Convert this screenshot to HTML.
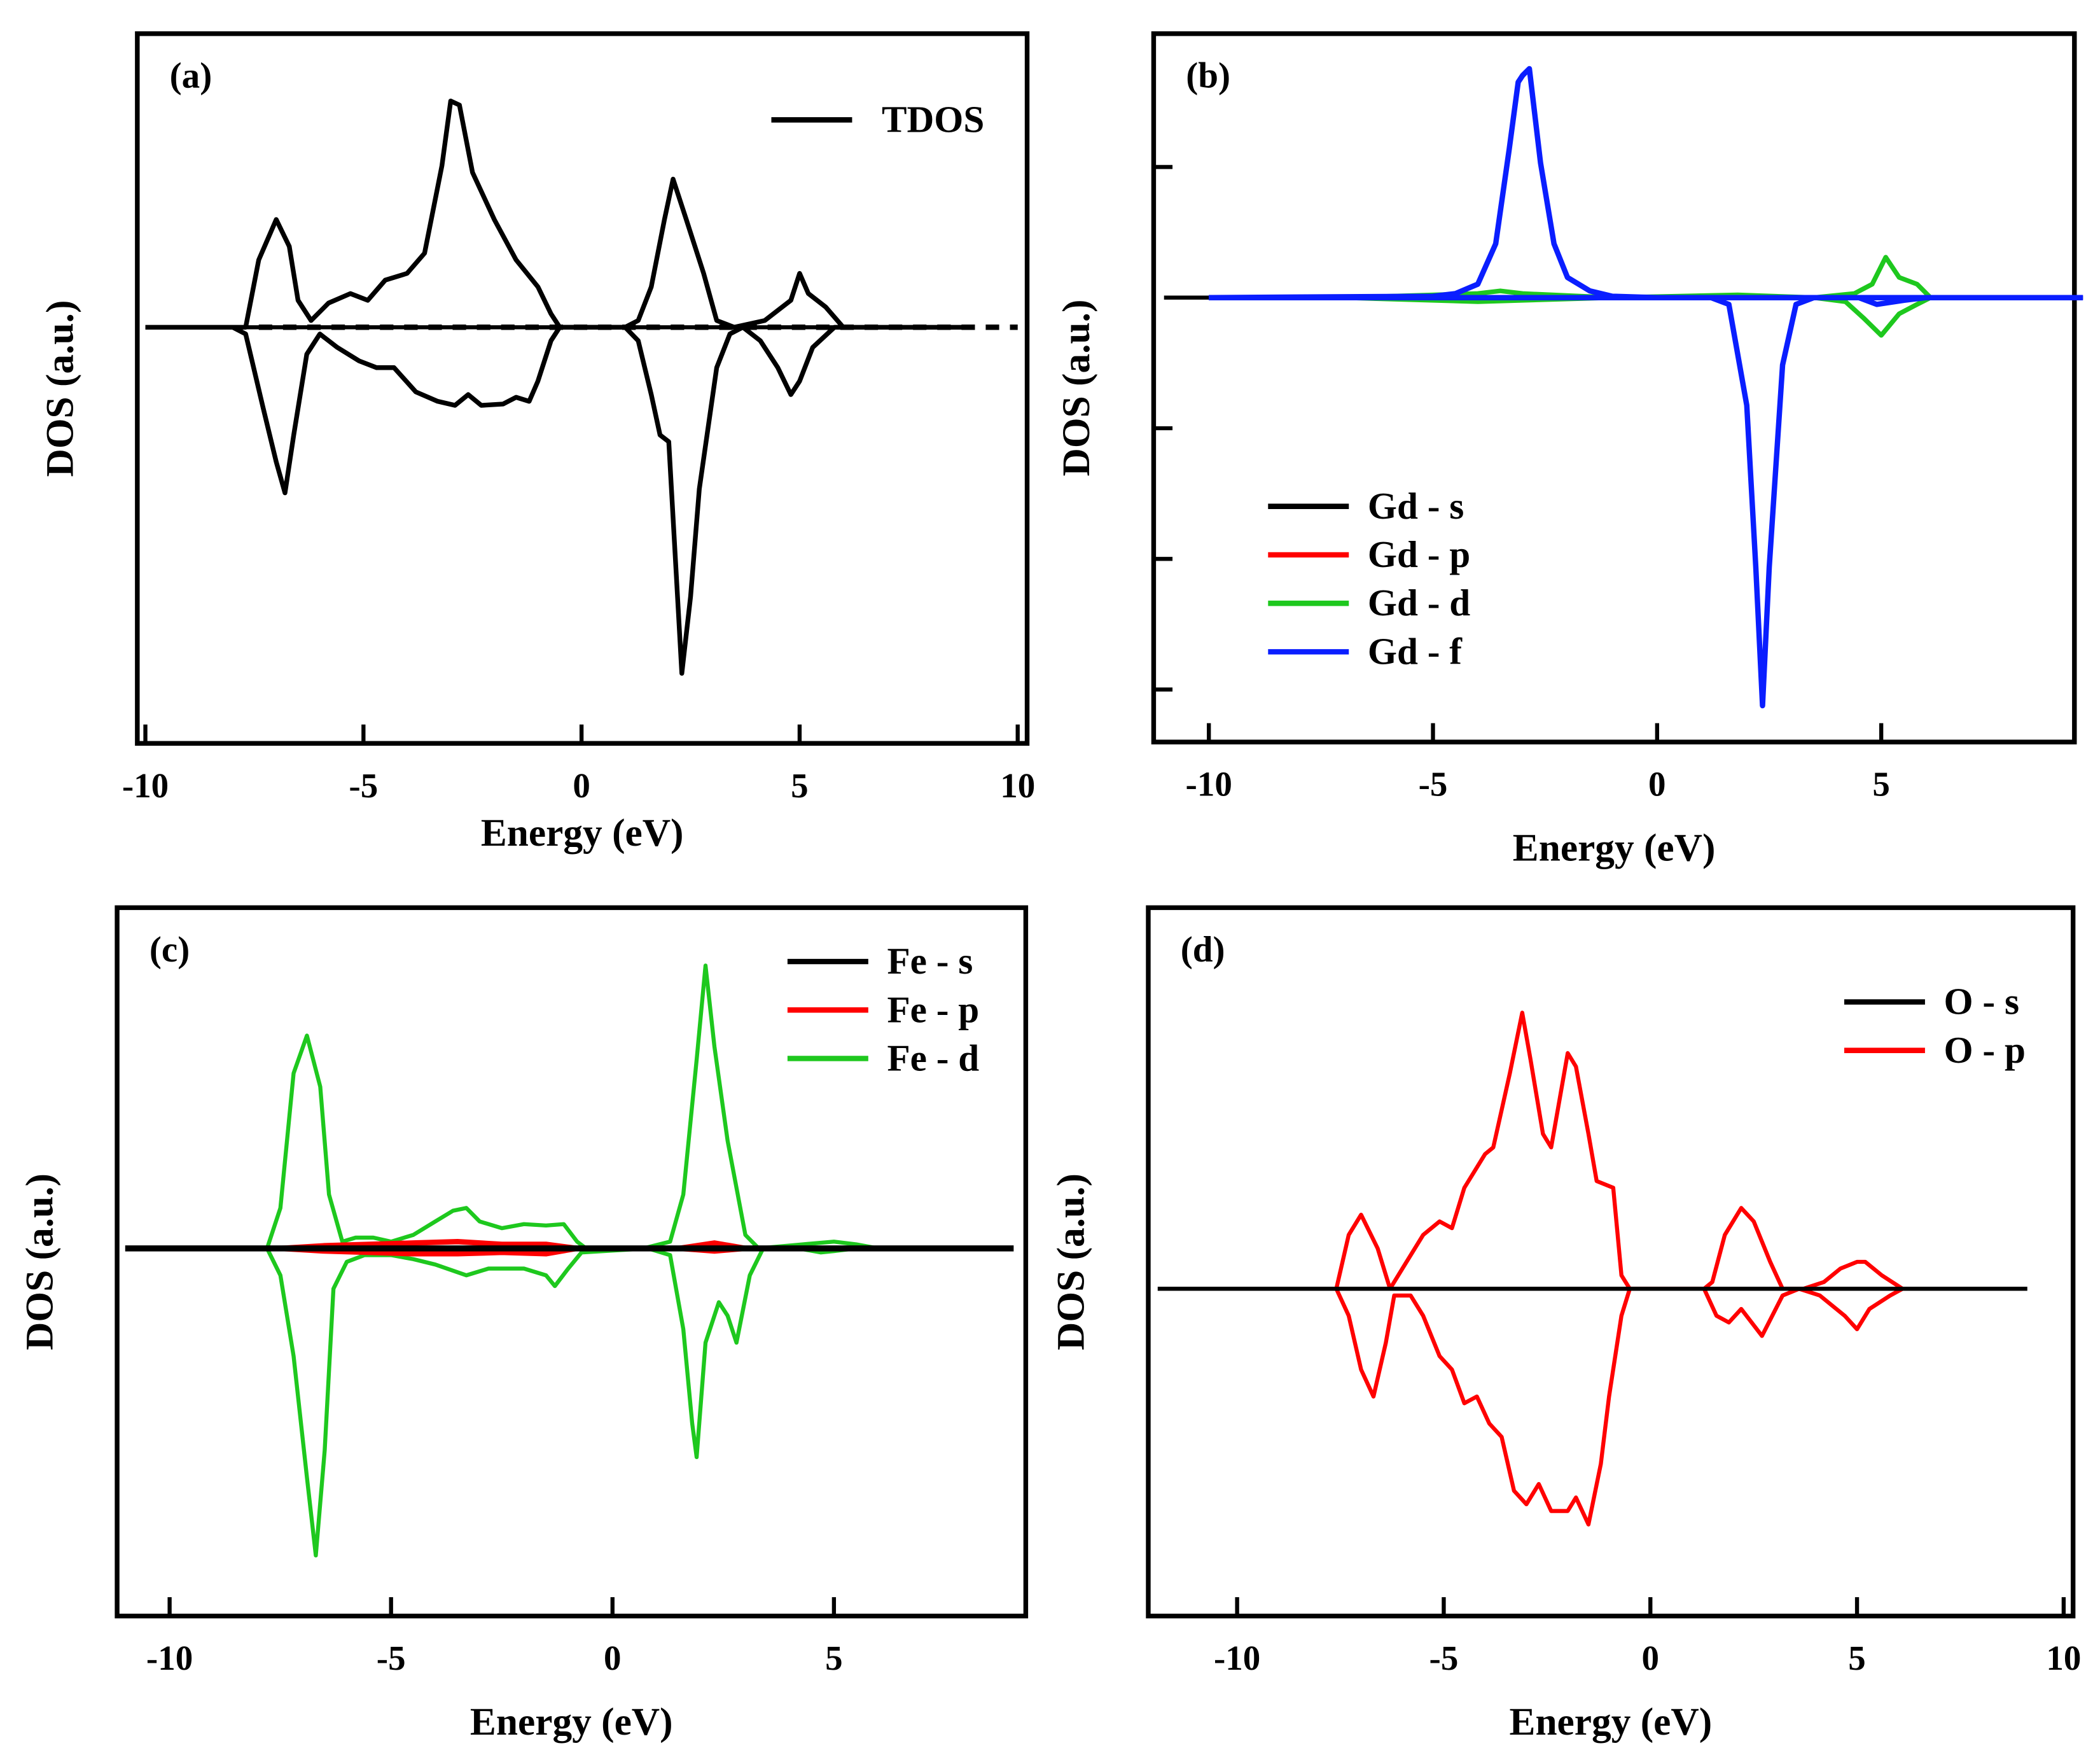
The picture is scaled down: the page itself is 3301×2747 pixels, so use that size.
<!DOCTYPE html>
<html><head><meta charset="utf-8"><style>
html,body{margin:0;padding:0;background:#fff}
svg{display:block}
text{font-family:"Liberation Serif",serif;font-weight:bold;fill:#000}
</style></head><body>
<svg id="fig" xmlns="http://www.w3.org/2000/svg" width="3301" height="2747" viewBox="0 0 1560 1298" preserveAspectRatio="none"></svg>
<script>
// ---- Panel (a) TDOS ----
const aUpE=[-10,-8,-7.7,-7.4,-7.0,-6.7,-6.5,-6.2,-5.8,-5.3,-4.9,-4.5,-4.0,-3.6,-3.2,-3.0,-2.8,-2.5,-2.0,-1.5,-1.0,-0.7,-0.5,1.0,1.3,1.6,1.9,2.1,2.4,2.8,3.1,3.5,4.2,4.6,4.8,5.0,5.2,5.6,6.0,9.0];
const aUpV=[0,0,0,5.0,8.0,6.0,2.0,0.5,1.8,2.5,2.0,3.5,4.0,5.5,12.0,16.8,16.5,11.5,8.0,5.0,3.0,1.0,0,0,0.5,3.0,8.0,11.0,8.0,4.0,0.5,0,0.5,1.5,2.0,4.0,2.5,1.5,0,0];
const aDnE=[-8,-7.7,-7.3,-7.0,-6.8,-6.6,-6.3,-6.0,-5.6,-5.1,-4.7,-4.3,-3.8,-3.3,-2.9,-2.6,-2.3,-1.8,-1.5,-1.2,-1.0,-0.7,-0.5,1.0,1.3,1.6,1.8,2.0,2.2,2.3,2.5,2.7,3.1,3.4,3.7,4.1,4.5,4.8,5.0,5.3,5.8,6.2];
const aDnV=[0,-0.5,-6.0,-10.0,-12.3,-8.0,-2.0,-0.5,-1.5,-2.5,-3.0,-3.0,-4.8,-5.5,-5.8,-5.0,-5.8,-5.7,-5.2,-5.5,-4.0,-1.0,0,0,-1.0,-5.0,-8.0,-8.5,-20.0,-25.7,-20.0,-12.0,-3.0,-0.5,0,-1.0,-3.0,-5.0,-4.0,-1.5,0,0];
// ---- Panel (b) Gd ----
const bFupE=[-10,-5,-4.5,-4.0,-3.6,-3.3,-3.1,-3.0,-2.85,-2.6,-2.3,-2.0,-1.5,-1.0,0,9.5];
const bFupV=[0,0.1,0.3,1.0,4.0,11.0,16.0,16.5,17.0,10.0,4.0,1.5,0.5,0.1,0,0];
const bFdnE=[-10,1.2,1.6,2.0,2.2,2.35,2.5,2.8,3.1,3.5,4.5,4.9,5.5,6.0,9.5];
const bFdnV=[0,0,-0.5,-8.0,-20.0,-30.3,-20.0,-5.0,-0.5,0,0,-0.5,-0.2,0,0];
const bDupE=[-7,-4,-3.5,-3,-1,1.8,3.5,4.4,4.8,5.1,5.4,5.8,6.1];
const bDupV=[0,0.3,0.5,0.3,0,0.2,0,0.3,1.0,3.0,1.5,1.0,0];
const bDdnE=[-7,-4,-1,3.5,4.2,4.6,5.0,5.4,5.8,6.1];
const bDdnV=[0,-0.3,0,0,-0.3,-1.5,-2.8,-1.2,-0.5,0];
// ---- Panel (c) Fe ----
const cDupE=[-10,-7.8,-7.5,-7.2,-6.9,-6.6,-6.4,-6.1,-5.8,-5.4,-5.0,-4.5,-4.0,-3.6,-3.3,-3.0,-2.5,-2.0,-1.5,-1.1,-0.8,-0.6,0.7,1.3,1.6,1.9,2.1,2.3,2.6,3.0,3.3,4.3,5.0,5.5,6.0];
const cDupV=[0,0,3.0,13.0,15.8,12.0,4.0,0.5,0.8,0.8,0.5,1.0,2.0,2.8,3.0,2.0,1.5,1.8,1.7,1.8,0.5,0,0,0.5,4.0,14.0,21.0,15.0,8.0,1.0,0,0.3,0.5,0.3,0];
const cDdnE=[-7.8,-7.5,-7.2,-6.9,-6.7,-6.5,-6.3,-6.0,-5.6,-5.0,-4.5,-4.0,-3.3,-2.8,-2.0,-1.5,-1.3,-1.0,-0.7,0.8,1.3,1.6,1.8,1.9,2.1,2.4,2.6,2.8,3.1,3.4,4.2,4.7,5.0,5.5];
const cDdnV=[0,-2.0,-8.0,-17.0,-22.8,-15.0,-3.0,-1.0,-0.5,-0.5,-0.8,-1.2,-2.0,-1.5,-1.5,-2.0,-2.8,-1.5,-0.3,0,-0.5,-6.0,-13.0,-15.5,-7.0,-4.0,-5.0,-7.0,-2.0,0,0,-0.3,-0.2,0];
const cPupE=[-7.5,-6.5,-5.5,-4.5,-3.5,-2.5,-1.5,-0.8,1.5,2.3,3.0];
const cPupV=[0,0.2,0.3,0.4,0.5,0.3,0.3,0,0,0.4,0];
const cPdnE=[-7.5,-6.5,-5.5,-4.5,-3.5,-2.5,-1.5,-0.8,1.5,2.3,3.0];
const cPdnV=[0,-0.2,-0.3,-0.4,-0.4,-0.3,-0.4,0,0,-0.2,0];
// ---- Panel (d) O ----
const dUpE=[-7.6,-7.3,-7.0,-6.6,-6.3,-6.0,-5.5,-5.1,-4.8,-4.5,-4.0,-3.8,-3.4,-3.1,-2.9,-2.6,-2.4,-2.0,-1.8,-1.5,-1.3,-0.9,-0.7,-0.5,1.3,1.5,1.8,2.2,2.5,2.9,3.2,3.7,4.2,4.6,5.0,5.2,5.6,6.1];
const dUpV=[0,4.0,5.5,3.0,0,1.5,4.0,5.0,4.5,7.5,10.0,10.5,16.0,20.5,17.0,11.5,10.5,17.5,16.5,11.5,8.0,7.5,1.0,0,0,0.5,4.0,6.0,5.0,2.0,0,0,0.5,1.5,2.0,2.0,1.0,0];
const dDnE=[-7.6,-7.3,-7.0,-6.7,-6.4,-6.2,-5.8,-5.5,-5.1,-4.8,-4.5,-4.2,-3.9,-3.6,-3.3,-3.0,-2.7,-2.4,-2.0,-1.8,-1.5,-1.2,-1.0,-0.7,-0.5,1.3,1.6,1.9,2.2,2.7,3.2,3.6,4.1,4.7,5.0,5.3,5.8,6.1];
const dDnV=[0,-2.0,-6.0,-8.0,-4.0,-0.5,-0.5,-2.0,-5.0,-6.0,-8.5,-8.0,-10.0,-11.0,-15.0,-16.0,-14.5,-16.5,-16.5,-15.5,-17.5,-13.0,-8.0,-2.0,0,0,-2.0,-2.5,-1.5,-3.5,-0.5,0,-0.5,-2.0,-3.0,-1.5,-0.5,0];

const NS='http://www.w3.org/2000/svg';
const svg=document.getElementById('fig');
function mk(tag,attrs,parent){const e=document.createElementNS(NS,tag);for(const k in attrs)e.setAttribute(k,attrs[k]);(parent||svg).appendChild(e);return e;}

function panel(o){
  const g=mk('g',{});
  
  
  const sx=e=>o.x0+(e-o.e0)*o.ppu;
  const sy=v=>o.base-v*10;
  const frame=mk('rect',{x:o.L,y:o.T,width:o.R-o.L,height:o.B-o.T,fill:'none',stroke:'#000','stroke-width':3.5},g);
  
  
  o.ticks.forEach(t=>{
    const X=sx(t);
    const tk=mk('line',{x1:X,x2:X,y1:o.B,y2:o.B-14,stroke:'#000','stroke-width':3},g);
    
    
    const tl=mk('text',{x:X,y:o.B+40,'text-anchor':'middle','font-size':26},g);
    tl.textContent=String(t);
    
    
  });
  (o.yticks||[]).forEach(Y=>{
    const tk=mk('line',{x1:o.L,x2:o.L+14,y1:Y,y2:Y,stroke:'#000','stroke-width':3},g);
    
    
  });
  const xt=mk('text',{x:(o.L+o.R)/2,y:o.B+o.xtOff,'text-anchor':'middle','font-size':29},g);
  xt.textContent='Energy (eV)';
  
  
  const yx=o.L-48, yy=(o.T+o.B)/2+o.ytOff;
  const yt=mk('text',{x:yx,y:yy,'text-anchor':'middle','font-size':29,transform:`rotate(-90 ${yx} ${yy})`},g);
  yt.textContent='DOS (a.u.)';
  
  
  const pl=mk('text',{x:o.L+24,y:o.T+40,'font-size':27},g);
  pl.textContent=o.label;
  
  
  if(o.pre)o.pre(g,sx,sy);
  o.series.forEach(s=>{
    const d=s.e.map((e,i)=>(i?'L':'M')+sx(e).toFixed(1)+' '+sy(s.v[i]).toFixed(1)).join(' ');
    const p=mk('path',{d:d,fill:'none',stroke:s.c,'stroke-width':s.w||3,'stroke-linejoin':'round'},g);
    
    
  });
  if(o.post)o.post(g,sx,sy);
  o.legend.forEach((l,i)=>{
    const y=o.lg.y+i*o.lg.dy;
    const ln=mk('line',{x1:o.lg.x,x2:o.lg.x+60,y1:y,y2:y,stroke:l.c,'stroke-width':4},g);
    
    
    const tx=mk('text',{x:o.lg.x+o.lg.tx,y:y+9,'font-size':28},g);
    tx.textContent=l.t;
    
    
  });
}

panel({name:'panel-a-tdos',L:102,R:763,T:25,B:552,x0:432,e0:0,ppu:32.4,base:243,ticks:[-10,-5,0,5,10],xtOff:76,ytOff:0,label:'(a)',
  pre:(g,sx,sy)=>{
    const b=mk('line',{x1:sx(-10),x2:sx(8.9),y1:sy(0),y2:sy(0),stroke:'#000','stroke-width':3},g);
    
    
    const dl=mk('line',{x1:sx(-7.4),x2:sx(10),y1:sy(0),y2:sy(0),stroke:'#000','stroke-width':4,'stroke-dasharray':'10 8'},g);
    
    
  },
  series:[{e:aUpE,v:aUpV,c:'#000',n:'tdos-spin-up',w:3.5},{e:aDnE,v:aDnV,c:'#000',n:'tdos-spin-down',w:3.5}],
  legend:[{t:'TDOS',c:'#000'}],lg:{x:573,y:89,dy:0,tx:82}});

panel({name:'panel-b-gd',L:857,R:1541,T:25,B:551,x0:1231,e0:0,ppu:33.3,base:221,ticks:[-10,-5,0,5],xtOff:88,ytOff:0,label:'(b)',
  yticks:[124,318,415,512],
  pre:(g,sx,sy)=>{
    const b=mk('line',{x1:sx(-11),x2:sx(9.5),y1:sy(0),y2:sy(0),stroke:'#000','stroke-width':3},g);
    
    
  },
  series:[{e:bDupE,v:bDupV,c:'#1ec81e',n:'gd-d-up',w:3.5},{e:bDdnE,v:bDdnV,c:'#1ec81e',n:'gd-d-down',w:3.5},
          {e:bFupE,v:bFupV,c:'#0a1eff',n:'gd-f-up',w:4},{e:bFdnE,v:bFdnV,c:'#0a1eff',n:'gd-f-down',w:4}],
  legend:[{t:'Gd - s',c:'#000'},{t:'Gd - p',c:'#ff0000'},{t:'Gd - d',c:'#1ec81e'},{t:'Gd - f',c:'#0a1eff'}],lg:{x:942,y:376,dy:36,tx:74}});

panel({name:'panel-c-fe',L:87,R:762,T:674,B:1200,x0:455,e0:0,ppu:32.9,base:927,ticks:[-10,-5,0,5],xtOff:88,ytOff:0,label:'(c)',
  series:[{e:cDupE,v:cDupV,c:'#1ec81e',n:'fe-d-up'},{e:cDdnE,v:cDdnV,c:'#1ec81e',n:'fe-d-down'},
          {e:cPupE,v:cPupV,c:'#ff0000',n:'fe-p-up',w:4},{e:cPdnE,v:cPdnV,c:'#ff0000',n:'fe-p-down',w:4}],
  post:(g,sx,sy)=>{
    const b=mk('line',{x1:93,x2:753,y1:sy(0),y2:sy(0),stroke:'#000','stroke-width':4.5},g);
    
    
  },
  legend:[{t:'Fe - s',c:'#000'},{t:'Fe - p',c:'#ff0000'},{t:'Fe - d',c:'#1ec81e'}],lg:{x:585,y:714,dy:36,tx:74}});

panel({name:'panel-d-o',L:853,R:1540,T:674,B:1200,x0:1226,e0:0,ppu:30.7,base:957,ticks:[-10,-5,0,5,10],xtOff:88,ytOff:0,label:'(d)',
  series:[{e:dUpE,v:dUpV,c:'#ff0000',n:'o-p-up'},{e:dDnE,v:dDnV,c:'#ff0000',n:'o-p-down'}],
  post:(g,sx,sy)=>{
    const b=mk('line',{x1:860,x2:1506,y1:sy(0),y2:sy(0),stroke:'#000','stroke-width':3},g);
    
    
  },
  legend:[{t:'O - s',c:'#000'},{t:'O - p',c:'#ff0000'}],lg:{x:1370,y:744,dy:36,tx:74}});
</script>
</body></html>
